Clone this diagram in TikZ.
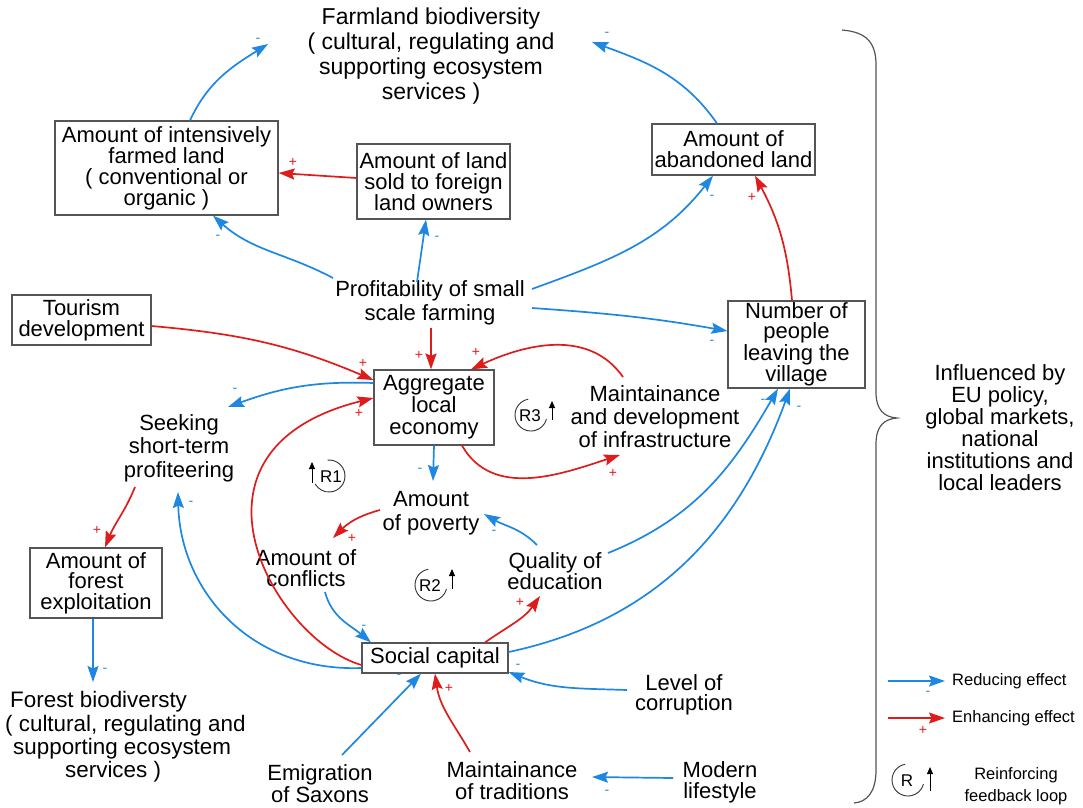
\documentclass[tikz,border=0pt]{standalone}
\usepackage{fontspec}
\setmainfont{Liberation Sans}
\usetikzlibrary{arrows.meta}
\definecolor{cblue}{RGB}{30,135,225}
\definecolor{cred}{RGB}{222,28,28}
\definecolor{boxgray}{RGB}{85,85,85}
\definecolor{signblue}{RGB}{50,140,190}
\begin{document}
\begin{tikzpicture}[x=1pt,y=1pt,
  lbl/.style={align=center, inner sep=1pt, font=\fontsize{22}{24}\selectfont},
  bx/.style={lbl, draw=boxgray, line width=1.2pt, inner sep=0pt},
  negarr/.style={-{Stealth[length=16pt,width=11pt,inset=2.5pt]}, cblue, line width=1.7pt},
  posarr/.style={-{Stealth[length=16pt,width=11pt,inset=2.5pt]}, cred, line width=1.7pt},
  msign/.style={text=signblue, font=\fontsize{14}{14}\selectfont, inner sep=0pt},
  psign/.style={text=cred, font=\fontsize{14}{14}\selectfont, inner sep=0pt},
  loopc/.style={line width=0.9pt, black!80},
  looparr/.style={-{Triangle[length=7pt,width=6pt]}, line width=1pt, black},
  rlab/.style={font=\fontsize{17}{17}\selectfont, inner sep=0pt},
  leg/.style={font=\fontsize{16.5}{22}\selectfont, inner sep=0pt, align=center},
]
\useasboundingbox (0,0) rectangle (1083,-807);

% ---------- nodes ----------
\node[lbl, font=\fontsize{23}{25}\selectfont] (farm) at (431,-56) {Farmland biodiversity\\( cultural, regulating and\\supporting ecosystem\\services )};
\node[bx, minimum width=223pt, minimum height=94pt, font=\fontsize{22}{21}\selectfont] (intens) at (166.5,-168) {Amount of intensively\\farmed land\\( conventional or\\organic )};
\node[bx, minimum width=153pt, minimum height=75pt, font=\fontsize{22}{21}\selectfont] (sold) at (433.5,-181.5) {Amount of land\\sold to foreign\\land owners};
\node[bx, minimum width=163pt, minimum height=51pt, font=\fontsize{22}{21}\selectfont] (aband) at (733.5,-149.5) {Amount of\\abandoned land};
\node[lbl] (profit) at (430,-303) {Profitability of small\\scale farming};
\node[bx, minimum width=139pt, minimum height=50pt, font=\fontsize{22}{21}\selectfont] (tour) at (81.5,-320) {Tourism\\development};
\node[bx, minimum width=137pt, minimum height=87pt, font=\fontsize{22}{20}\selectfont] (people) at (796.5,-344.5) {Number of\\people\\leaving the\\village};
\node[bx, minimum width=120pt, minimum height=75pt, font=\fontsize{22}{22}\selectfont] (agg) at (434,-407.5) {Aggregate\\local\\economy};
\node[lbl, font=\fontsize{22}{23.5}\selectfont] (seek) at (179,-448) {Seeking\\short-term\\profiteering};
\node[lbl, font=\fontsize{22}{23}\selectfont] (infra) at (655,-417) {Maintainance\\and development\\of infrastructure};
\node[lbl] (pov) at (431,-513) {Amount\\of poverty};
\node[lbl, font=\fontsize{22}{21}\selectfont] (confl) at (306,-568) {Amount of\\conflicts};
\node[lbl, font=\fontsize{22}{19}\selectfont] (edu) at (555,-571) {Quality of\\education};
\node[bx, minimum width=132pt, minimum height=70pt, font=\fontsize{22}{20.5}\selectfont] (forest) at (96,-583) {Amount of\\forest\\exploitation};
\node[lbl, align=left, anchor=west, inner sep=0pt, font=\fontsize{22.4}{23.3}\selectfont] (fbio) at (5,-737) {\hspace*{5pt}Forest biodiversty\\( cultural, regulating and\\\hspace*{8pt}supporting ecosystem\\\hspace*{60pt}services )};
\node[bx, minimum width=146pt, minimum height=30pt] (social) at (435,-658) {Social capital};
\node[lbl, font=\fontsize{22}{20}\selectfont] (corr) at (684,-695) {Level of\\corruption};
\node[lbl, font=\fontsize{22}{22}\selectfont] (emig) at (320,-784) {Emigration\\of Saxons};
\node[lbl, font=\fontsize{22}{22}\selectfont] (trad) at (512,-781) {Maintainance\\of traditions};
\node[lbl, font=\fontsize{22}{21}\selectfont] (modern) at (720,-782) {Modern\\lifestyle};
\node[lbl, font=\fontsize{22}{22}\selectfont] (infl) at (1000,-428) {Influenced by\\EU policy,\\global markets,\\national\\institutions and\\local leaders};

% ---------- connectors ----------
\draw[negarr] ([xshift=23.5pt]intens.north) to[out=65,in=212] ([shift={(-163,12)}]farm.center);
\draw[negarr] ([xshift=-16.5pt]aband.north) to[out=125,in=-20] ([shift={(161,14)}]farm.center);
\draw[posarr] ([yshift=3.5pt]sold.west) -- ([yshift=-5pt]intens.east);
\draw[negarr] ([shift={(-97,25)}]profit.center) to[out=152,in=-42] ([xshift=46.5pt]intens.south);
\draw[negarr] ([shift={(-13,21)}]profit.center) -- ([xshift=-7.5pt]sold.south);
\draw[negarr] ([shift={(102,14)}]profit.center) to[out=20,in=232] ([xshift=-20.5pt]aband.south);
\draw[negarr] ([shift={(102,-5)}]profit.center) to[out=-4,in=170] ([yshift=13.5pt]people.west);
\draw[posarr] ([xshift=-4.5pt]people.north) to[out=95,in=-62] ([xshift=21.5pt]aband.south);
\draw[posarr] ([yshift=-6pt]tour.east) to[out=-5,in=157] ([yshift=27.5pt]agg.west);
\draw[posarr] ([shift={(1,-25)}]profit.center) -- ([xshift=-3pt]agg.north);
\draw[posarr] ([shift={(-32,40)}]infra.center) to[out=125,in=25] ([xshift=37pt]agg.north);
\draw[negarr] ([yshift=24.5pt]agg.west) to[out=178,in=20] ([shift={(49,41)}]seek.center);
\draw[posarr] ([yshift=-7pt]social.west) .. controls (275,-640) and (165,-450) .. ([yshift=9.5pt]agg.west);
\draw[posarr] ([xshift=28pt]agg.south) to[out=-60,in=198] ([shift={(-35,-38)}]infra.center);
\draw[negarr] (agg.south) -- ([shift={(2,32)}]pov.center);
\draw[posarr] ([shift={(-51,3)}]pov.center) to[out=195,in=45] ([shift={(27,30)}]confl.center);
\draw[negarr] ([shift={(-18,26)}]edu.center) to[out=135,in=-30] ([shift={(53,-1)}]pov.center);
\draw[negarr] ([shift={(19,-24)}]confl.center) to[out=-75,in=140] ([xshift=-64pt]social.north);
\draw[posarr] ([xshift=50pt]social.north) to[out=35,in=235] ([shift={(-15,-25)}]edu.center);
\draw[negarr] ([yshift=-10pt]social.west) .. controls (250,-672) and (180,-590) .. ([shift={(-1,-44)}]seek.center);
\draw[posarr] ([shift={(-44,-39)}]seek.center) to[out=-112,in=68] ([xshift=9pt]forest.north);
\draw[negarr] ([xshift=-3pt]forest.south) -- ([shift={(88,55)}]fbio.west);
\draw[negarr] ([shift={(53,18)}]edu.center) to[out=22,in=240] ([xshift=-18.5pt]people.south);
\draw[negarr] ([yshift=6pt]social.east) to[out=12,in=250] ([xshift=-6.5pt]people.south);
\draw[negarr] ([shift={(-57,5)}]corr.center) to[out=178,in=-22] ([yshift=-14pt]social.east);
\draw[negarr] ([shift={(22,29)}]emig.center) -- ([xshift=-14pt]social.south);
\draw[posarr] ([shift={(-42,29)}]trad.center) to[out=120,in=-82] (social.south);
\draw[negarr] ([shift={(-47,4)}]modern.center) -- ([shift={(80,4)}]trad.center);

% ---------- signs ----------
\node[msign] (s1) at (258,-40) {-};
\node[msign] (s2) at (607,-34) {-};
\node[psign] (s3) at (293,-162) {+};
\node[msign] (s4) at (218,-237) {-};
\node[msign] (s5) at (437,-238) {-};
\node[msign] (s6) at (712,-197) {-};
\node[msign] (s7) at (712,-342) {-};
\node[psign] (s8) at (752,-197) {+};
\node[psign] (s9) at (363,-363) {+};
\node[psign] (s10) at (419,-355) {+};
\node[psign] (s11) at (476,-352) {+};
\node[msign] (s12) at (235,-390) {-};
\node[psign] (s13) at (359,-413) {+};
\node[psign] (s14) at (613,-473) {+};
\node[msign] (s15) at (420,-470) {-};
\node[psign] (s16) at (352,-538) {+};
\node[msign] (s17) at (494,-532) {-};
\node[msign] (s18) at (364,-627) {-};
\node[psign] (s19) at (520,-602) {+};
\node[msign] (s20) at (191,-503) {-};
\node[psign] (s21) at (97,-530) {+};
\node[msign] (s22) at (105,-670) {-};
\node[msign] (s23) at (763,-401) {-};
\node[msign] (s24) at (799,-408) {-};
\node[msign] (s25) at (518,-666) {-};
\node[msign] (s26) at (399,-676) {-};
\node[psign] (s27) at (449,-688) {+};
\node[msign] (s28) at (607,-792) {-};

% ---------- loop markers ----------
\draw[loopc] (329,-476) ++(95:16) arc (95:-150:16);
\draw[looparr] (312,-483) -- (312,-462);
\node[rlab] (r1) at (331,-477) {R1};
\draw[loopc] (431,-585) ++(100:16) arc (100:345:16);
\draw[looparr] (452,-589) -- (452,-569);
\node[rlab] (r2) at (430,-586) {R2};
\draw[loopc] (531,-415) ++(100:16) arc (100:345:16);
\draw[looparr] (552,-420) -- (552,-401);
\node[rlab] (r3) at (530,-416) {R3};

% ---------- brace ----------
\draw[boxgray, line width=1.2pt] (842,-30) .. controls (866,-32) and (876,-42) .. (876,-65) -- (876,-392) .. controls (876,-410) and (884,-417) .. (897,-418) .. controls (884,-419) and (876,-426) .. (876,-444) -- (876,-770) .. controls (876,-792) and (867,-802) .. (854,-803);

% ---------- legend ----------
\coordinate (lb) at (888,-681);
\node[leg, anchor=west] (lt1) at (952,-681) {Reducing effect};
\draw[negarr] (lb) -- ([xshift=-7pt]lt1.west);
\node[msign] (ls1) at (928,-693) {-};
\coordinate (lr) at (888,-718);
\node[leg, anchor=west] (lt2) at (952,-718) {Enhancing effect};
\draw[posarr] (lr) -- ([xshift=-7pt]lt2.west);
\node[psign] (ls2) at (923,-730) {+};
\draw[loopc] (908,-780) ++(100:16) arc (100:345:16);
\draw[looparr] (930,-791) -- (930,-767);
\node[rlab] (lrl) at (907,-781) {R};
\node[leg] (lt3) at (1016,-786) {Reinforcing\\feedback loop};
\end{tikzpicture}
\end{document}
